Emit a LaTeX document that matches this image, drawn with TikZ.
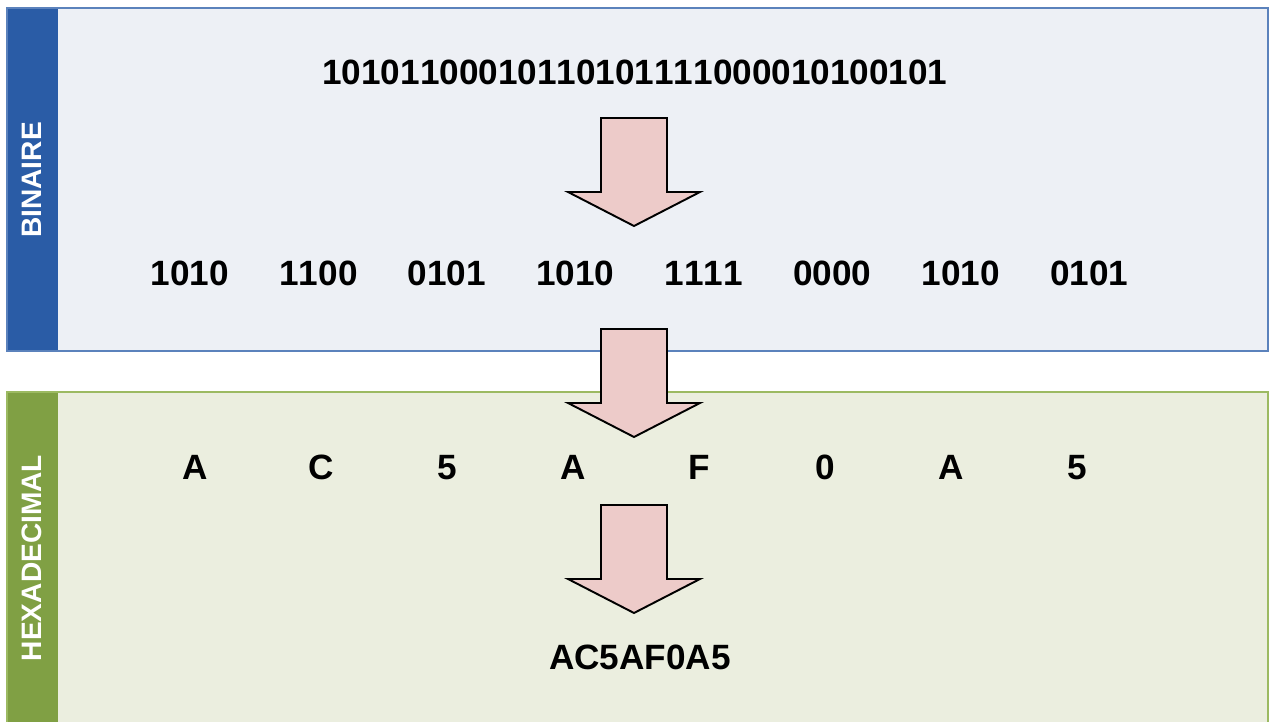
\documentclass[tikz,border=0pt]{standalone}
\usepackage{fontspec}
\setmainfont{Liberation Sans}[Kerning=Off]
\usetikzlibrary{positioning}
\definecolor{binbar}{HTML}{2A5CA6}
\definecolor{binline}{HTML}{5B82BC}
\definecolor{binfill}{HTML}{EDF0F5}
\definecolor{hexbar}{HTML}{80A044}
\definecolor{hexline}{HTML}{9CBA62}
\definecolor{hexfill}{HTML}{EBEEDF}
\definecolor{arrowfill}{HTML}{EDCBC9}
\tikzset{
	node distance=2.57cm,
	digits/.style={font=\fontsize{20pt}{24pt}\selectfont\bfseries, inner sep=0pt,
		text height=14.4pt, text depth=0pt},
	sidelabel/.style={font=\fontsize{16pt}{19pt}\selectfont\bfseries, text=white, rotate=90, inner sep=0pt},
	blockarrow/.style={draw=black, fill=arrowfill, line width=1.1pt, line join=miter}}
\newcommand\blockdown[1]{%
	\draw[blockarrow] (601,#1) -- (667,#1) -- (667,#1+74) -- (700,#1+74)
		-- (634,#1+108) -- (568,#1+74) -- (601,#1+74) -- cycle;}

\begin{document}
\begin{tikzpicture}[x=0.02cm, y=-0.02cm]
		\useasboundingbox (0,0) rectangle (1269,722);

		% panels
		\fill[binfill] (7,8) rectangle (1268,351);
		\fill[binbar] (7,8) rectangle (58,351);
		\draw[binline, line width=1.3pt] (7,8) rectangle (1268,351);
		\fill[hexfill] (7,392) rectangle (1268,722);
		\fill[hexbar] (7,392) rectangle (58,722);
		\draw[hexline, line width=1.3pt] (7,722) -- (7,392) -- (1268,392) -- (1268,722);

		\node[sidelabel] (lblbin) at (32,180) {BINAIRE};
		\node[sidelabel] (lblhex) at (32,558) {HEXADECIMAL};

		\node[digits] (bin) at (635,72) {10101100010110101111000010100101};

		\node[digits] (g1) at (190,273) {1010};
		\node[digits, right of=g1] (g2) {1100};
		\node[digits, right of=g2] (g3) {0101};
		\node[digits, right of=g3] (g4) {1010};
		\node[digits, right of=g4] (g5) {1111};
		\node[digits, right of=g5] (g6) {0000};
		\node[digits, right of=g6] (g7) {1010};
		\node[digits, right of=g7] (g8) {0101};

		\begin{scope}[node distance=2.52cm]
		\node[digits] (h1) at (195,467) {A};
		\node[digits, right of=h1] (h2) {C};
		\node[digits, right of=h2] (h3) {5};
		\node[digits, right of=h3] (h4) {A};
		\node[digits, right of=h4] (h5) {F};
		\node[digits, right of=h5] (h6) {0};
		\node[digits, right of=h6] (h7) {A};
		\node[digits, right of=h7] (h8) {5};
		\end{scope}

		\node[digits] (res) at (640,657) {AC5AF0A5};

		% arrows
		\blockdown{118}
		\blockdown{329}
		\blockdown{505}
	\end{tikzpicture}
\end{document}
